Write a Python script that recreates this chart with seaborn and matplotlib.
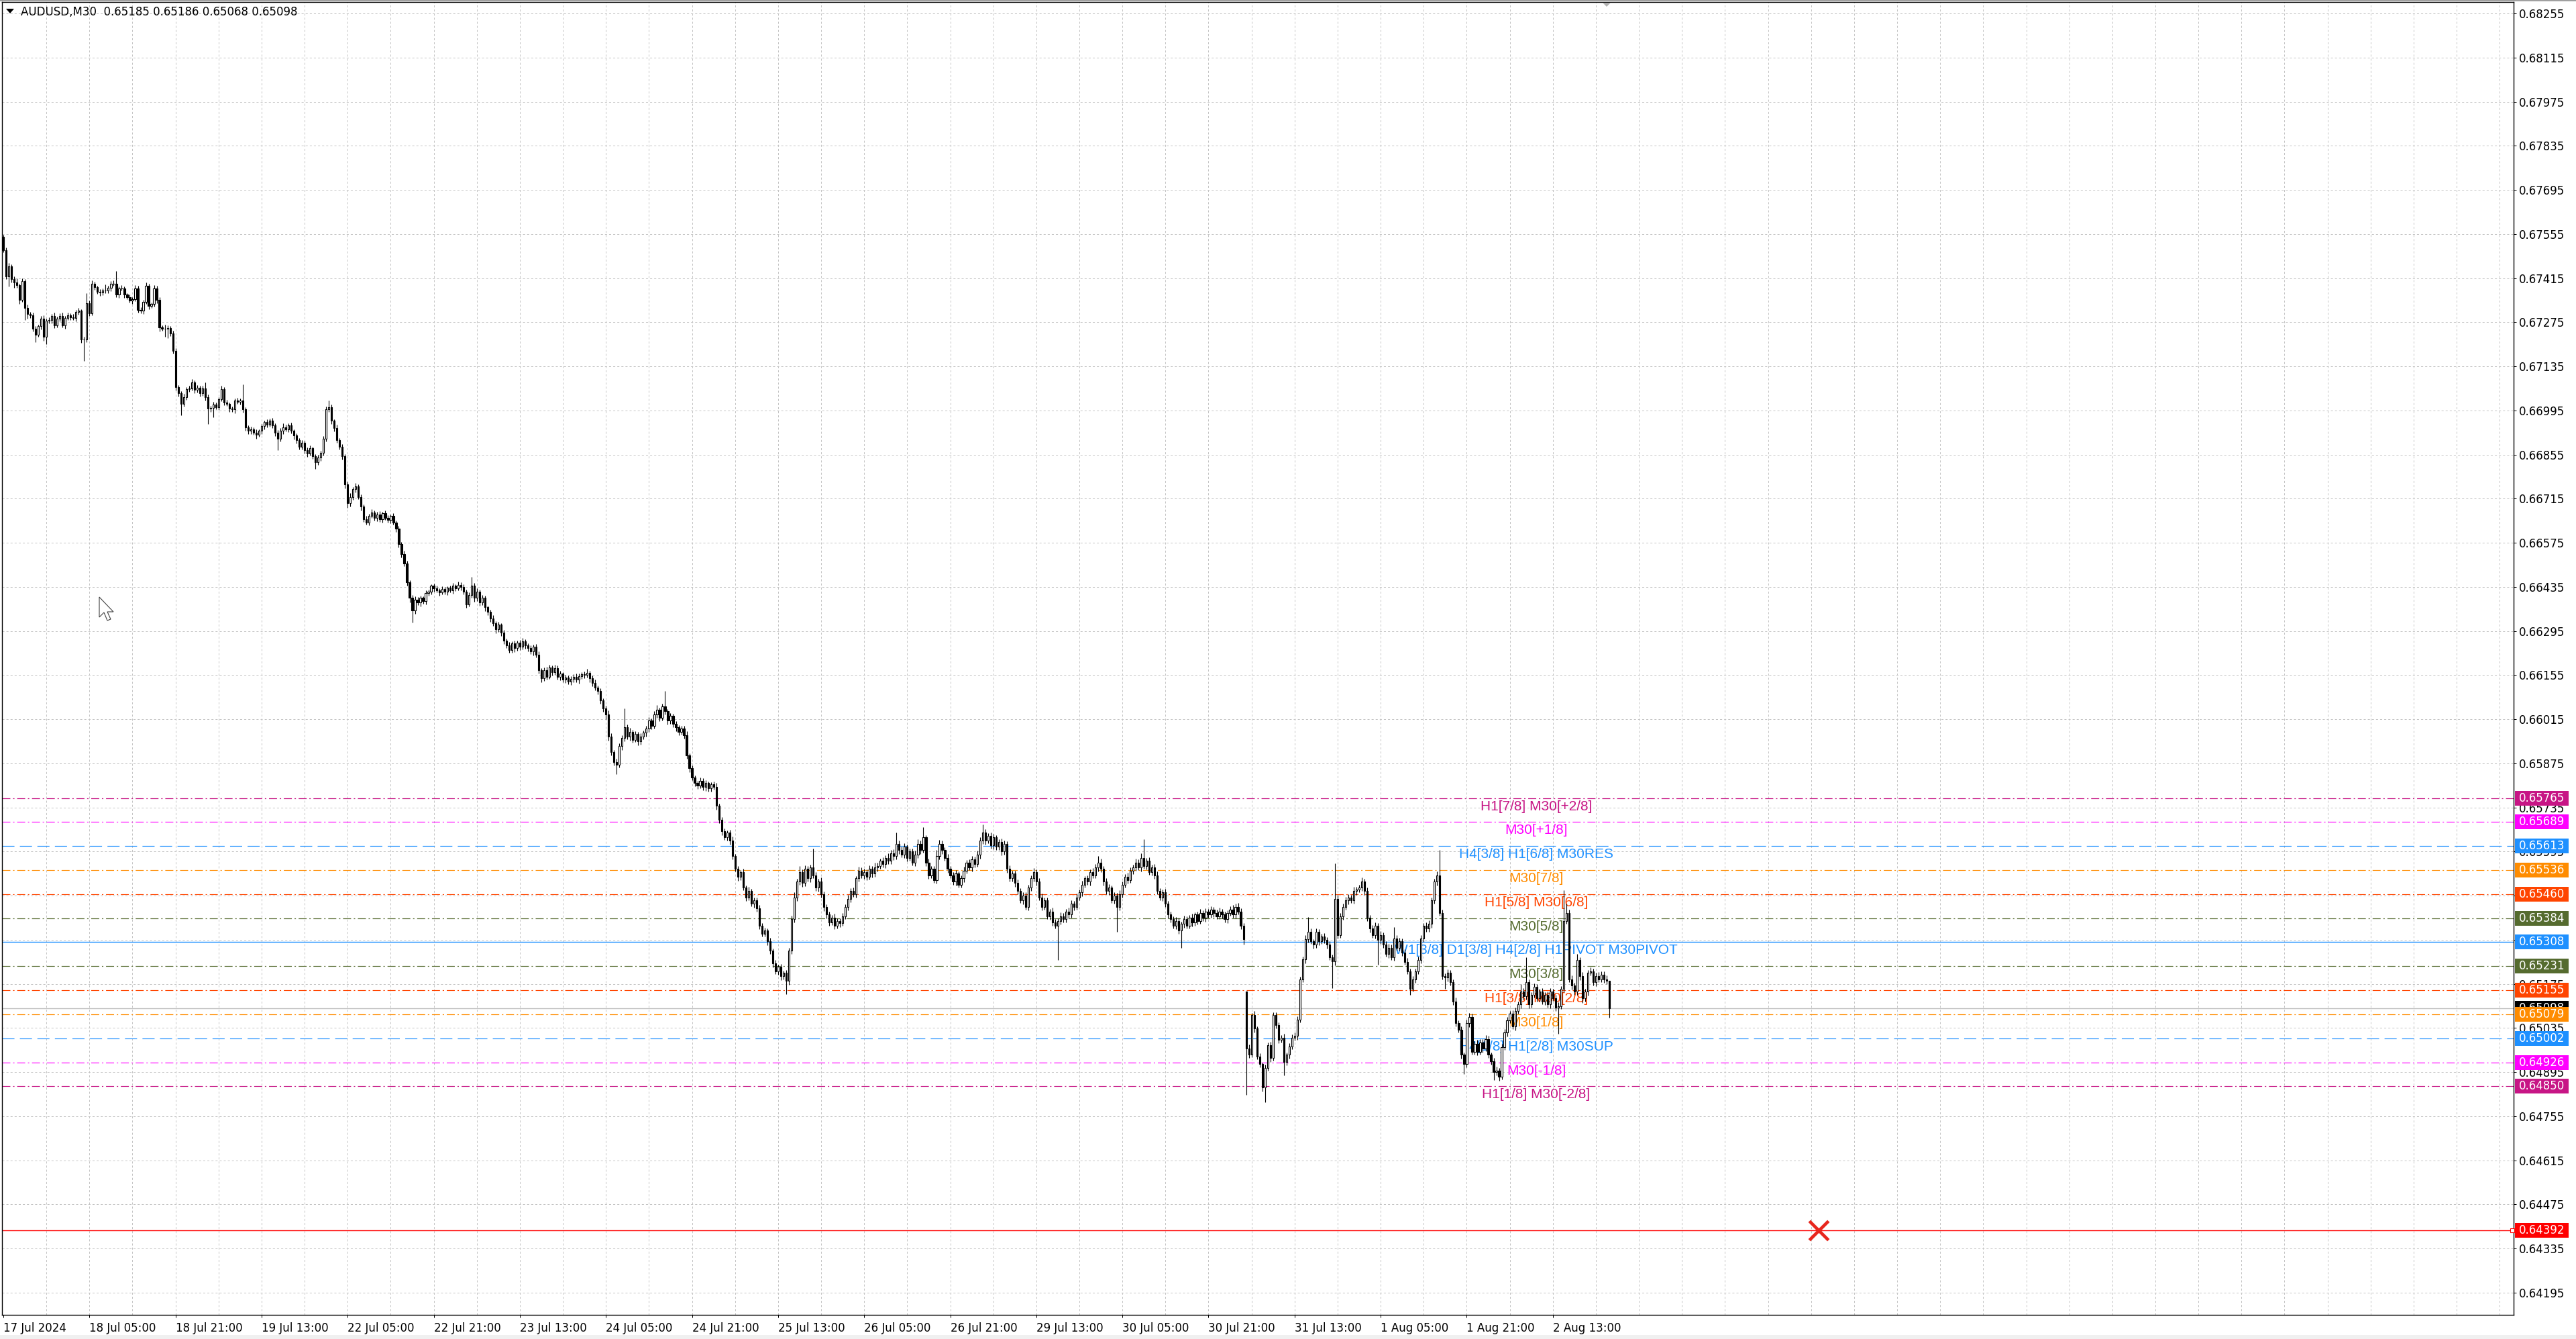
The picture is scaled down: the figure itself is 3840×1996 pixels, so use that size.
import numpy as np
import pandas as pd
import matplotlib
matplotlib.use("Agg")
import matplotlib.pyplot as plt
from matplotlib.patches import Rectangle, Polygon
import seaborn as sns

# ---- candle data, prices in points (67546 -> 0.67546), one value per M30 bar ----
first_open = 67546
gap_opens = {462: 65151}

closes = [
    67503, 67421, 67453, 67411, 67402, 67393, 67345, 67405, 67320, 67302,
    67296, 67255, 67235, 67262, 67286, 67228, 67280, 67282, 67294, 67265,
    67287, 67295, 67266, 67288, 67297, 67290, 67288, 67308, 67311, 67221,
    67220, 67336, 67304, 67397, 67386, 67372, 67369, 67375, 67376, 67384,
    67398, 67397, 67362, 67382, 67383, 67362, 67355, 67343, 67348, 67382,
    67315, 67311, 67340, 67390, 67327, 67333, 67383, 67345, 67258, 67254,
    67254, 67256, 67240, 67185, 67070, 67049, 67015, 67038, 67063, 67065,
    67083, 67060, 67067, 67050, 67065, 67038, 67000, 67004, 67013, 67006,
    67031, 67063, 67020, 67016, 67000, 66998, 67026, 67022, 67027, 66998,
    66942, 66930, 66935, 66925, 66918, 66930, 66945, 66958, 66950, 66962,
    66948, 66925, 66905, 66930, 66942, 66935, 66948, 66930, 66915, 66900,
    66880, 66892, 66870, 66858, 66875, 66850, 66830, 66845, 66860, 66905,
    66998, 67005, 66962, 66940, 66900, 66880, 66850, 66760, 66700, 66720,
    66745, 66755, 66720, 66690, 66650, 66640, 66660, 66672, 66655, 66665,
    66650, 66668, 66655, 66648, 66660, 66640, 66620, 66570, 66540, 66510,
    66450, 66400, 66360, 66395, 66385, 66400, 66390, 66415, 66420, 66438,
    66430, 66425, 66418, 66428, 66420, 66432, 66425, 66438, 66430, 66442,
    66435, 66420, 66380, 66410, 66440, 66400, 66420, 66385, 66400, 66370,
    66355, 66335, 66320, 66300, 66315, 66290, 66265, 66250, 66235, 66255,
    66240, 66258, 66245, 66262, 66250, 66240, 66230, 66245, 66220, 66170,
    66145, 66170, 66150, 66180, 66165, 66178, 66150, 66160, 66140, 66148,
    66135, 66142, 66150, 66140, 66152, 66158, 66155, 66162, 66145, 66130,
    66115, 66105, 66075, 66050, 66030, 65960, 65910, 65880, 65870, 65930,
    65955, 65990, 65960, 65975, 65950, 65968, 65945, 65960, 65972, 65985,
    66010, 65995, 66030, 66045, 66020, 66055, 66040, 66010, 66025, 66000,
    65990, 65975, 65985, 65965, 65900, 65860, 65830, 65812, 65805, 65820,
    65800, 65812, 65795, 65808, 65800, 65740, 65695, 65660, 65640, 65655,
    65630, 65580, 65540, 65515, 65530, 65480, 65450, 65470, 65430, 65440,
    65415, 65360, 65335, 65345, 65310, 65280, 65240, 65215, 65230, 65200,
    65210, 65185, 65280, 65380, 65450, 65500, 65530, 65495, 65540, 65510,
    65545, 65520, 65480, 65500, 65460, 65420, 65395, 65370, 65385, 65360,
    65375, 65368, 65390, 65420, 65445, 65470, 65460, 65510, 65535, 65520,
    65530, 65515, 65540, 65525, 65545, 65550, 65565, 65555, 65575, 65565,
    65590, 65580, 65620, 65600, 65585, 65610, 65575, 65595, 65560, 65585,
    65620, 65600, 65640, 65560, 65520, 65540, 65505, 65580, 65620, 65600,
    65575, 65540, 65520, 65500, 65525, 65490, 65510, 65535, 65560, 65545,
    65570, 65555, 65585, 65630, 65655, 65630, 65645, 65615, 65640, 65610,
    65625, 65595, 65620, 65540, 65510, 65525, 65495, 65470, 65440, 65455,
    65420, 65480, 65510, 65530, 65500, 65450, 65420, 65440, 65390, 65405,
    65370, 65360, 65375, 65390, 65380, 65405, 65395, 65430, 65420, 65450,
    65465, 65490, 65510, 65500, 65530, 65520, 65545, 65560, 65540, 65500,
    65470, 65480, 65440, 65455, 65420, 65460, 65490, 65515, 65505, 65535,
    65545, 65560, 65545, 65575, 65550, 65565, 65530, 65545, 65520, 65470,
    65450, 65465, 65430, 65395, 65380, 65360, 65375, 65345, 65365, 65380,
    65360, 65385, 65370, 65395, 65375, 65400, 65385, 65405, 65395, 65410,
    65400, 65390, 65405, 65395, 65380, 65400, 65410, 65395, 65420, 65405,
    65360, 65318, 64970, 64950, 65076, 65033, 64945, 64920, 64846, 64909,
    64980, 64940, 65076, 65044, 64998, 65005, 64927, 64950, 64977, 65005,
    65010, 65062, 65190, 65253, 65317, 65340, 65310, 65300, 65340, 65310,
    65325, 65315, 65300, 65260, 65246, 65445, 65330, 65390, 65420, 65440,
    65450, 65440, 65470, 65475, 65480, 65500, 65470, 65385, 65350, 65330,
    65360, 65315, 65330, 65300, 65270, 65290, 65260, 65320, 65290, 65310,
    65275, 65245, 65215, 65160, 65190, 65215, 65250, 65320, 65360, 65350,
    65365, 65440, 65500, 65520, 65400, 65200, 65195, 65210, 65180, 65120,
    65050, 65030, 64950, 64920, 65050, 65070, 64960, 64985, 64960, 64990,
    64970, 65000, 64950, 64930, 64895, 64900, 64880, 64975, 65020, 65060,
    65080, 65040, 65090, 65110, 65150, 65135, 65180, 65110, 65140, 65165,
    65130, 65150, 65120, 65140, 65110, 65150, 65130, 65100, 65105, 65160,
    65375, 65400, 65190, 65170, 65150, 65250, 65200, 65130, 65150, 65210,
    65215, 65180, 65200, 65190, 65205, 65190, 65185, 65098,
]

# wick length above / below the body, in points
upper_wick = [
    7, 8, 11, 6, 9, 12, 5, 8, 6, 10,
    6, 9, 7, 5, 8, 10, 6, 9, 7, 12,
    5, 8, 10, 6, 9, 7, 12, 6, 10, 5,
    7, 32, 8, 10, 6, 5, 9, 7, 18, 6,
    8, 10, 41, 7, 9, 6, 5, 8, 6, 10,
    9, 7, 6, 12, 8, 5, 10, 7, 9, 6,
    14, 8, 6, 9, 7, 5, 8, 10, 6, 9,
    12, 7, 9, 6, 8, 18, 7, 5, 9, 8,
    6, 10, 7, 9, 5, 8, 6, 10, 7, 50,
    8, 6, 9, 7, 10, 6, 8, 5, 9, 7,
    10, 6, 8, 9, 12, 7, 6, 9, 5, 8,
    7, 10, 6, 8, 9, 5, 7, 10, 6, 8,
    9, 21, 8, 6, 10, 7, 9, 6, 8, 12,
    7, 9, 5, 8, 6, 10, 7, 9, 6, 8,
    10, 6, 9, 7, 5, 8, 6, 9, 7, 10,
    8, 6, 9, 10, 7, 8, 5, 9, 7, 6,
    8, 10, 6, 9, 7, 5, 8, 10, 6, 9,
    7, 9, 6, 8, 26, 7, 10, 6, 9, 8,
    6, 8, 10, 7, 9, 5, 8, 6, 10, 7,
    9, 6, 8, 10, 7, 5, 9, 6, 8, 10,
    7, 9, 12, 8, 6, 10, 7, 9, 5, 8,
    6, 9, 7, 10, 8, 6, 9, 12, 7, 8,
    10, 6, 9, 7, 8, 12, 10, 7, 9, 8,
    10, 60, 8, 12, 7, 9, 6, 10, 8, 9,
    12, 8, 10, 15, 7, 9, 50, 8, 10, 7,
    9, 6, 8, 10, 12, 7, 9, 6, 8, 10,
    7, 9, 6, 8, 10, 12, 7, 9, 8, 6,
    10, 12, 8, 9, 7, 10, 8, 12, 6, 9,
    8, 10, 7, 9, 6, 12, 8, 10, 7, 9,
    6, 8, 10, 12, 15, 9, 20, 8, 12, 10,
    9, 60, 10, 8, 12, 9, 7, 10, 8, 12,
    9, 7, 10, 8, 12, 9, 10, 8, 12, 9,
    10, 8, 12, 9, 15, 10, 8, 12, 9, 15,
    10, 12, 35, 9, 10, 12, 8, 10, 9, 12,
    14, 10, 32, 8, 12, 10, 9, 20, 12, 10,
    8, 12, 10, 9, 12, 8, 10, 12, 9, 10,
    12, 9, 14, 10, 25, 12, 9, 10, 12, 8,
    10, 12, 9, 8, 12, 10, 9, 12, 8, 10,
    12, 9, 10, 12, 8, 10, 12, 9, 10, 8,
    12, 10, 9, 12, 10, 8, 12, 10, 9, 12,
    10, 12, 8, 10, 9, 12, 10, 20, 12, 9,
    10, 12, 8, 10, 9, 12, 10, 9, 12, 10,
    9, 12, 10, 14, 60, 10, 12, 9, 10, 12,
    9, 10, 12, 8, 10, 9, 12, 10, 8, 12,
    10, 9, 12, 8, 10, 12, 9, 10, 8, 12,
    9, 10, 12, 8, 10, 9, 12, 15, 10, 12,
    9, 8, 0, 12, 7, 14, 8, 10, 6, 9,
    10, 12, 8, 9, 10, 7, 12, 8, 10, 9,
    12, 10, 8, 9, 12, 48, 10, 8, 12, 9,
    10, 12, 8, 10, 9, 113, 12, 10, 9, 12,
    10, 8, 12, 9, 10, 12, 8, 10, 9, 12,
    10, 9, 12, 8, 10, 12, 9, 36, 10, 12,
    9, 10, 12, 8, 10, 9, 12, 10, 8, 10,
    12, 10, 9, 12, 80, 10, 8, 12, 9, 10,
    12, 9, 10, 8, 12, 13, 10, 9, 12, 10,
    9, 12, 10, 8, 10, 12, 9, 10, 12, 9,
    10, 12, 9, 10, 25, 12, 80, 10, 9, 12,
    10, 9, 12, 8, 10, 12, 9, 10, 12, 8,
    98, 30, 10, 12, 9, 20, 10, 12, 9, 10,
    12, 9, 10, 12, 9, 10, 12, 1,
]

lower_wick = [
    5, 9, 32, 10, 18, 8, 12, 6, 37, 15,
    8, 10, 23, 6, 9, 12, 22, 8, 10, 9,
    7, 10, 8, 12, 6, 9, 7, 10, 8, 12,
    68, 8, 10, 7, 9, 6, 10, 8, 7, 9,
    10, 6, 8, 9, 7, 10, 8, 6, 9, 7,
    10, 8, 9, 7, 10, 6, 8, 9, 12, 7,
    25, 30, 8, 10, 12, 9, 36, 7, 10, 8,
    6, 9, 7, 10, 8, 12, 47, 9, 30, 8,
    10, 7, 9, 6, 10, 8, 12, 7, 9, 10,
    12, 9, 10, 8, 12, 7, 9, 10, 8, 6,
    9, 12, 35, 8, 10, 7, 9, 8, 12, 10,
    8, 9, 12, 10, 7, 9, 20, 8, 10, 7,
    9, 8, 10, 12, 7, 9, 10, 12, 15, 9,
    8, 10, 7, 12, 9, 8, 10, 7, 9, 12,
    8, 10, 7, 9, 12, 8, 10, 9, 12, 10,
    12, 15, 38, 10, 8, 12, 9, 10, 7, 9,
    10, 8, 12, 7, 9, 10, 8, 12, 9, 7,
    10, 9, 12, 8, 10, 12, 9, 10, 8, 12,
    9, 10, 8, 12, 9, 10, 12, 8, 10, 9,
    12, 8, 10, 9, 12, 10, 8, 12, 9, 10,
    12, 9, 10, 8, 12, 10, 9, 12, 8, 10,
    9, 12, 10, 8, 12, 9, 10, 8, 12, 10,
    9, 12, 10, 12, 15, 12, 10, 12, 30, 9,
    12, 10, 9, 12, 10, 8, 12, 10, 9, 12,
    10, 12, 9, 10, 12, 8, 10, 12, 9, 10,
    12, 10, 9, 12, 10, 12, 9, 10, 12, 8,
    10, 12, 9, 10, 8, 12, 10, 12, 9, 10,
    12, 10, 9, 12, 10, 8, 12, 10, 9, 12,
    10, 12, 9, 10, 12, 10, 12, 9, 10, 12,
    10, 43, 12, 10, 9, 12, 10, 12, 9, 10,
    12, 10, 9, 12, 10, 14, 12, 10, 9, 12,
    10, 12, 9, 10, 12, 10, 9, 12, 10, 9,
    12, 10, 9, 12, 10, 12, 9, 10, 12, 10,
    9, 12, 10, 12, 9, 10, 12, 10, 9, 12,
    10, 12, 9, 10, 12, 10, 9, 12, 10, 12,
    10, 12, 9, 10, 12, 10, 9, 12, 10, 9,
    12, 10, 9, 12, 10, 12, 9, 10, 12, 10,
    9, 12, 10, 12, 9, 10, 12, 10, 9, 12,
    10, 12, 9, 10, 12, 10, 12, 9, 10, 12,
    10, 9, 108, 12, 10, 9, 12, 10, 12, 9,
    10, 12, 9, 10, 12, 10, 9, 12, 10, 12,
    10, 12, 9, 10, 80, 12, 10, 9, 12, 10,
    12, 10, 9, 12, 10, 12, 9, 10, 12, 10,
    9, 12, 10, 12, 9, 10, 12, 10, 55, 12,
    10, 9, 12, 10, 12, 9, 10, 12, 10, 9,
    12, 10, 9, 12, 10, 12, 9, 10, 12, 10,
    12, 18, 147, 10, 8, 12, 10, 9, 12, 47,
    10, 12, 9, 10, 12, 9, 43, 10, 12, 9,
    10, 12, 9, 10, 12, 10, 9, 12, 10, 12,
    9, 10, 12, 10, 85, 12, 10, 9, 12, 10,
    12, 9, 10, 12, 10, 9, 12, 10, 12, 9,
    10, 79, 12, 10, 9, 12, 10, 12, 9, 10,
    12, 10, 9, 20, 10, 12, 9, 10, 12, 10,
    9, 12, 10, 12, 9, 10, 35, 12, 10, 12,
    10, 9, 12, 30, 10, 12, 9, 10, 12, 10,
    12, 9, 10, 12, 25, 10, 12, 9, 10, 12,
    10, 9, 12, 10, 12, 9, 10, 12, 10, 9,
    12, 10, 9, 12, 10, 12, 9, 10, 84, 10,
    12, 10, 9, 12, 10, 9, 12, 15, 10, 12,
    9, 10, 12, 10, 9, 12, 10, 30,
]

time_labels = ["17 Jul 2024", "18 Jul 05:00", "18 Jul 21:00", "19 Jul 13:00",
               "22 Jul 05:00", "22 Jul 21:00", "23 Jul 13:00", "24 Jul 05:00",
               "24 Jul 21:00", "25 Jul 13:00", "26 Jul 05:00", "26 Jul 21:00",
               "29 Jul 13:00", "30 Jul 05:00", "30 Jul 21:00", "31 Jul 13:00",
               "1 Aug 05:00", "1 Aug 21:00", "2 Aug 13:00"]

price_ticks = [0.68255, 0.68115, 0.67975, 0.67835, 0.67695, 0.67555, 0.67415,
               0.67275, 0.67135, 0.66995, 0.66855, 0.66715, 0.66575, 0.66435,
               0.66295, 0.66155, 0.66015, 0.65875, 0.65735, 0.65595, 0.65455,
               0.65315, 0.65175, 0.65035, 0.64895, 0.64755, 0.64615, 0.64475,
               0.64335, 0.64195]

level_prices = [0.65765, 0.65689, 0.65613, 0.65536, 0.65460, 0.65384, 0.65308,
                0.65231, 0.65155, 0.65079, 0.65002, 0.64926, 0.64850]
level_names = ["H1[7/8] M30[+2/8]", "M30[+1/8]", "H4[3/8] H1[6/8] M30RES",
               "M30[7/8]", "H1[5/8] M30[6/8]", "M30[5/8]",
               "W1[3/8] D1[3/8] H4[2/8] H1PIVOT M30PIVOT", "M30[3/8]",
               "H1[3/8] M30[2/8]", "M30[1/8]", "H4[1/8] H1[2/8] M30SUP",
               "M30[-1/8]", "H1[1/8] M30[-2/8]"]
level_colors = ["#c71585", "#ff00ff", "#1e90ff", "#ff8c00", "#ff4500", "#556b2f",
                "#1e90ff", "#556b2f", "#ff4500", "#ff8c00", "#1e90ff", "#ff00ff",
                "#c71585"]
level_kind = ["dashdot", "dashdot", "dash", "dashdot", "dashdot", "dashdot", "solid",
              "dashdot", "dashdot", "dashdot", "dash", "dashdot", "dashdot"]

stop_price = 0.64392
last_price = 0.65098
header = "AUDUSD,M30  0.65185 0.65186 0.65068 0.65098"

# ---- build OHLC frame ----
df = pd.DataFrame({"close": np.array(closes) / 1e5})
df["open"] = df["close"].shift(1)
df.loc[0, "open"] = first_open / 1e5
for k, v in gap_opens.items():
    df.loc[k, "open"] = v / 1e5
df["top"] = df[["open", "close"]].max(axis=1)
df["bot"] = df[["open", "close"]].min(axis=1)
df["high"] = df["top"] + np.array(upper_wick) / 1e5
df["low"] = df["bot"] - np.array(lower_wick) / 1e5
df["bar"] = np.arange(len(df))
df["up"] = df["close"] >= df["open"]

# ---- figure ----
W, H, DPI = 3840, 1996, 100
sns.set_theme(style="white")
plt.rcParams["font.family"] = ["DejaVu Sans"]
plt.rcParams["lines.scale_dashes"] = False

fig = plt.figure(figsize=(W / DPI, H / DPI), dpi=DPI)
fig.patch.set_facecolor("white")
ax_top, ax_bot = 3, 1960
ax = fig.add_axes([3 / W, 1 - ax_bot / H, 3744 / W, (ax_bot - ax_top) / H])
ax.set_facecolor("white")
px_per_price = 46970.0
y1 = 0.68255 + (20 - ax_top) / px_per_price
y0 = y1 - (ax_bot - ax_top) / px_per_price
ax.set_xlim(-0.5, 933.17)
ax.set_ylim(y0, y1)

# grid (dash lengths in points, 1 px = 0.72 pt)
grid_kw = dict(color="#c4c4c4", lw=0.72, dashes=(2.2, 2.2), zorder=0.5)
for b in range(16, 934, 16):
    ax.axvline(b, **grid_kw)
for p in price_ticks:
    ax.axhline(p, **grid_kw)

# level lines + labels
style_map = {"dashdot": (0, (8.6, 2.9, 1.5, 2.9)), "dash": (0, (13, 5.8)), "solid": "-"}
ax.axhline(last_price, color="#c0c0c0", lw=1.0, zorder=1)
label_bar = 569.8
for p, name, c, k in zip(level_prices, level_names, level_colors, level_kind):
    ax.axhline(p, color=c, lw=1.0 if k == "solid" else 0.85, linestyle=style_map[k],
               zorder=1)
    ax.annotate(name, xy=(label_bar, p), xytext=(0, -2.2), textcoords="offset points",
                ha="center", va="top", color=c, fontsize=15,
                family=["Liberation Sans", "DejaVu Sans"], zorder=1.5)
ax.axhline(stop_price, color="#ff0000", lw=1.0, zorder=1)
ax.plot([932.6], [stop_price], marker="s", ms=4, mfc="white", mec="#ff0000",
        mew=0.8, clip_on=False, zorder=6)

# candles
ax.vlines(df["bar"], df["low"], df["high"], color="black", lw=0.8, zorder=3)
ax.bar(df["bar"], (df["top"] - df["bot"]).clip(lower=1e-7), bottom=df["bot"], width=0.55,
       color=np.where(df["up"], "white", "black"), edgecolor="black", linewidth=0.8,
       zorder=4)

# red cross on the stop line
sns.scatterplot(x=[674.8], y=[stop_price], marker="x", s=420, color="#e8261d",
                linewidth=3.4, ax=ax, zorder=5, legend=False)

# axes, ticks
for s in ax.spines.values():
    s.set_color("black")
    s.set_linewidth(1.0)
ax.yaxis.tick_right()
ax.set_yticks(price_ticks)
ax.set_yticklabels([f"{p:.5f}" for p in price_ticks])
ax.tick_params(axis="y", direction="out", length=2.9, width=0.72, pad=3.0,
               labelsize=12, colors="black", right=True, left=False)
ax.set_xticks(range(0, 32 * len(time_labels), 32))
ax.set_xticklabels(time_labels, ha="left")
ax.tick_params(axis="x", direction="out", length=2.9, width=0.72, pad=5,
               labelsize=12, colors="black", bottom=True)
ax.grid(False)

# price tags on the right axis
trans = ax.get_yaxis_transform()
box_h = 22 / px_per_price


def price_tag(p, color, zo):
    ax.add_patch(Rectangle((1.00053, p - box_h / 2), 0.02137, box_h, transform=trans,
                           facecolor=color, edgecolor="none", clip_on=False, zorder=zo))
    ax.text(1.00214, p, f"{p:.5f}", transform=trans, color="white", fontsize=12,
            ha="left", va="center", clip_on=False, zorder=zo + 0.05)


price_tag(last_price, "black", 10)
for i, (p, c) in enumerate(zip(level_prices, level_colors)):
    price_tag(p, c, 11 + i * 0.2)
price_tag(stop_price, "#ff0000", 14)

# header
fig.patches.append(Polygon([[9, H - 13], [21, H - 13], [15, H - 20]], closed=True,
                           transform=None, facecolor="black", edgecolor="none"))
fig.text(31 / W, 1 - 18 / H, header, fontsize=12, color="black", ha="left", va="center")

# chart shift marker and mouse cursor
fig.patches.append(Polygon([[2389, H - 4], [2401, H - 4], [2395, H - 10]], closed=True,
                           transform=None, facecolor="#b0b0b0", edgecolor="none"))
cx, cy = 148, H - 890
cur = [[0, 0], [0, -30], [7, -23], [12, -35], [17, -33], [12, -22], [21, -22]]
fig.patches.append(Polygon([[cx + a, cy + b] for a, b in cur], closed=True,
                           transform=None, facecolor="white", edgecolor="#404040",
                           linewidth=0.8))

# window borders
fig.patches.append(Rectangle((0, H - 2), W, 2, transform=None, facecolor="#a0a0a0",
                             edgecolor="none"))
fig.patches.append(Rectangle((0, 0), W, 6, transform=None, facecolor="#f0f0f0",
                             edgecolor="none"))

fig.savefig("out.png", dpi=DPI, facecolor="white")
